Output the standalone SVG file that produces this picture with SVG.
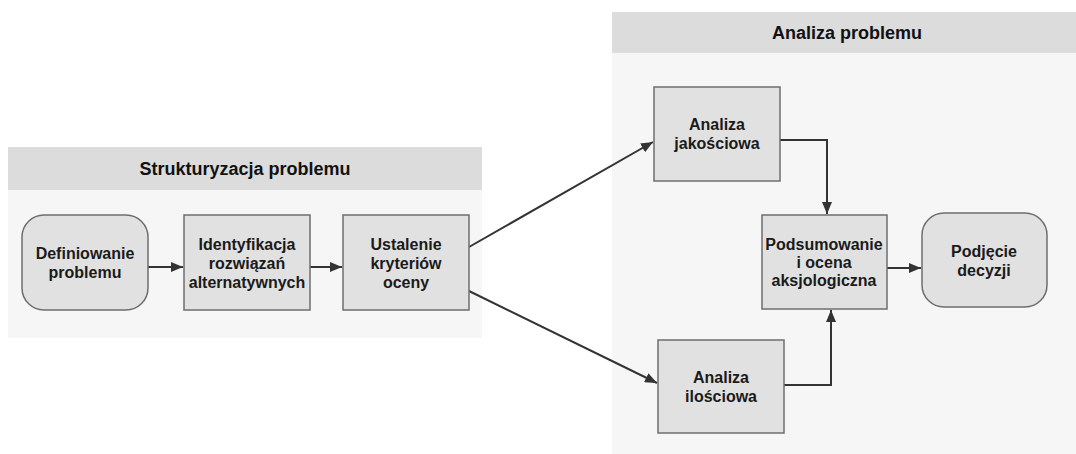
<svg xmlns="http://www.w3.org/2000/svg" width="1076" height="454" viewBox="0 0 1076 454">
<style>
.hdr{fill:#dcdcdc}
.body{fill:#f6f6f6}
.node{fill:#e1e1e1;stroke:#6e6e6e;stroke-width:1.5}
.ht{font-family:"Liberation Sans",Arial,sans-serif;font-weight:bold;font-size:18px;fill:#111;text-anchor:middle}
.t{font-family:"Liberation Sans",Arial,sans-serif;font-weight:bold;font-size:16px;fill:#1a1a1a;text-anchor:middle}
.c{fill:none;stroke:#333;stroke-width:2}
</style>
<defs>
<marker id="ah" viewBox="0 0 12 10" refX="12" refY="5" markerWidth="12" markerHeight="10" markerUnits="userSpaceOnUse" orient="auto">
<path d="M0,0 L12,5 L0,10 Z" fill="#333"/>
</marker>
</defs>
<rect width="1076" height="454" fill="#ffffff"/>
<g id="panel-left">
<rect class="body" x="8" y="190" width="474" height="148"/>
<rect class="hdr" x="8" y="147" width="474" height="43"/>
<text class="ht" x="245" y="175">Strukturyzacja problemu</text>
</g>
<g id="panel-right">
<rect class="body" x="612" y="53" width="464" height="401"/>
<rect class="hdr" x="612" y="12" width="464" height="41"/>
<text class="ht" x="847" y="39">Analiza problemu</text>
</g>
<g id="connectors">
<path class="c" d="M148,267 L183,267" marker-end="url(#ah)"/>
<path class="c" d="M310,267 L342,267" marker-end="url(#ah)"/>
<path class="c" d="M469,247 L653,142" marker-end="url(#ah)"/>
<path class="c" d="M469,291 L657,383" marker-end="url(#ah)"/>
<path class="c" d="M780,140 L827,140 L827,214" marker-end="url(#ah)"/>
<path class="c" d="M784,385 L831,385 L831,310" marker-end="url(#ah)"/>
<path class="c" d="M887,268 L921,268" marker-end="url(#ah)"/>
</g>
<g id="n-definiowanie">
<rect class="node" x="22" y="215" width="126" height="95" rx="22"/>
<text class="t" x="85" y="259">Definiowanie</text>
<text class="t" x="85" y="278">problemu</text>
</g>
<g id="n-identyfikacja">
<rect class="node" x="184" y="215" width="126" height="95"/>
<text class="t" x="247" y="250">Identyfikacja</text>
<text class="t" x="247" y="269">rozwiązań</text>
<text class="t" x="247" y="288">alternatywnych</text>
</g>
<g id="n-ustalenie">
<rect class="node" x="343" y="215" width="126" height="95"/>
<text class="t" x="406" y="250">Ustalenie</text>
<text class="t" x="406" y="269">kryteriów</text>
<text class="t" x="406" y="288">oceny</text>
</g>
<g id="n-jakosciowa">
<rect class="node" x="654" y="87" width="126" height="94"/>
<text class="t" x="717" y="130">Analiza</text>
<text class="t" x="717" y="149">jakościowa</text>
</g>
<g id="n-podsumowanie">
<rect class="node" x="762" y="215" width="125" height="94"/>
<text class="t" x="824" y="250">Podsumowanie</text>
<text class="t" x="824" y="268">i ocena</text>
<text class="t" x="824" y="286">aksjologiczna</text>
</g>
<g id="n-decyzji">
<rect class="node" x="922" y="213" width="125" height="94" rx="22"/>
<text class="t" x="984" y="257">Podjęcie</text>
<text class="t" x="984" y="276">decyzji</text>
</g>
<g id="n-ilosciowa">
<rect class="node" x="658" y="340" width="126" height="93"/>
<text class="t" x="721" y="383">Analiza</text>
<text class="t" x="721" y="402">ilościowa</text>
</g>
</svg>
